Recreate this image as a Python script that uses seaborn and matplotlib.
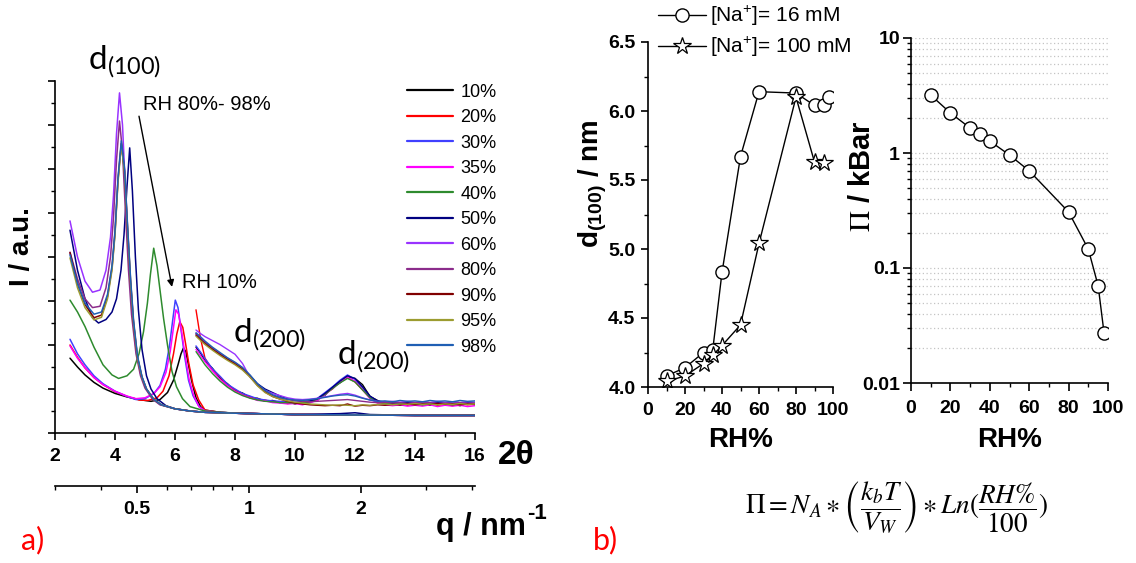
import matplotlib
matplotlib.use("Agg")
import matplotlib.pyplot as plt
from matplotlib.ticker import MultipleLocator, LogLocator, NullFormatter
import seaborn as sns

# ---------------- a) XRD patterns ----------------
# low-angle scans: 2theta (deg) and intensity (a.u.)
TT_10 = [2.5, 2.75, 3.0, 3.3, 3.6, 4.0, 4.4, 4.8, 5.2, 5.5, 5.75, 5.95, 6.1, 6.2,
         6.28, 6.36, 6.45, 6.55, 6.7, 6.85, 7.0, 7.5, 8.0, 10.0, 12.0, 14.0, 16.0]
I_10 = [1.70, 1.50, 1.32, 1.15, 1.02, 0.90, 0.82, 0.76, 0.72, 0.76, 0.92, 1.20, 1.55, 1.80,
        1.93, 1.85, 1.55, 1.20, 0.80, 0.60, 0.52, 0.47, 0.45, 0.42, 0.41, 0.40, 0.40]
TT_20 = [2.5, 2.75, 3.0, 3.3, 3.6, 4.0, 4.4, 4.8, 5.1, 5.4, 5.6, 5.8, 5.95, 6.06,
         6.16, 6.26, 6.36, 6.46, 6.6, 6.79, 7.0, 7.5, 8.0, 10.0, 12.0, 14.0, 16.0]
I_20 = [2.00, 1.72, 1.48, 1.26, 1.10, 0.94, 0.83, 0.75, 0.74, 0.80, 0.95, 1.30, 1.80, 2.25,
        2.53, 2.40, 2.00, 1.58, 1.10, 0.75, 0.52, 0.47, 0.45, 0.42, 0.41, 0.40, 0.40]
TT_30 = [2.5, 2.75, 3.0, 3.3, 3.6, 4.0, 4.4, 4.7, 5.0, 5.3, 5.5, 5.68, 5.82, 5.93,
         6.01, 6.1, 6.2, 6.32, 6.45, 6.6, 6.8, 7.0, 7.5, 8.0, 10.0, 12.0, 14.0, 16.0]
I_30 = [2.13, 1.80, 1.55, 1.30, 1.12, 0.95, 0.83, 0.76, 0.78, 0.90, 1.08, 1.45, 2.00, 2.60,
        3.02, 2.85, 2.35, 1.75, 1.20, 0.85, 0.60, 0.50, 0.47, 0.45, 0.42, 0.41, 0.40, 0.40]
TT_35 = [2.5, 2.75, 3.0, 3.3, 3.6, 4.0, 4.4, 4.7, 5.0, 5.3, 5.5, 5.7, 5.84, 5.95,
         6.03, 6.12, 6.22, 6.34, 6.47, 6.62, 6.8, 7.0, 7.5, 8.0, 10.0, 12.0, 14.0, 16.0]
I_35 = [1.98, 1.70, 1.48, 1.26, 1.10, 0.95, 0.84, 0.78, 0.80, 0.90, 1.05, 1.38, 1.85, 2.40,
        2.80, 2.70, 2.30, 1.75, 1.22, 0.86, 0.60, 0.50, 0.47, 0.45, 0.42, 0.41, 0.40, 0.40]
TT_40 = [2.5, 2.75, 3.0, 3.3, 3.6, 3.9, 4.12, 4.4, 4.62, 4.8, 4.95, 5.08, 5.18, 5.29,
         5.4, 5.5, 5.62, 5.75, 5.9, 6.05, 6.25, 6.5, 7.0, 8.0, 10.0, 12.0, 14.0, 16.0]
I_40 = [3.02, 2.75, 2.42, 1.95, 1.55, 1.32, 1.24, 1.30, 1.45, 1.80, 2.30, 2.95, 3.60, 4.20,
        3.80, 3.25, 2.60, 2.00, 1.40, 1.05, 0.78, 0.60, 0.50, 0.45, 0.42, 0.41, 0.40, 0.40]
TT_50 = [2.5, 2.75, 3.0, 3.25, 3.45, 3.7, 3.9, 4.05, 4.2, 4.3, 4.4, 4.49, 4.58, 4.68, 4.78,
         4.9, 5.05, 5.2, 5.4, 5.7, 6.0, 6.5, 7.0, 8.0, 10.0, 11.5, 12.0, 12.5, 14.0, 16.0]
I_50 = [4.61, 3.70, 3.05, 2.62, 2.50, 2.58, 2.75, 3.05, 3.70, 4.50, 5.60, 6.48, 5.50, 4.00, 2.80,
        1.90, 1.30, 1.00, 0.78, 0.62, 0.55, 0.50, 0.47, 0.45, 0.42, 0.44, 0.46, 0.42, 0.40, 0.40]
TT_60 = [2.5, 2.75, 3.0, 3.25, 3.5, 3.7, 3.85, 3.95, 4.05, 4.15, 4.25, 4.35, 4.45, 4.55,
         4.7, 4.85, 5.0, 5.25, 5.5, 6.0, 6.5, 7.0, 8.0, 10.0, 12.0, 14.0, 16.0]
I_60 = [4.82, 4.00, 3.45, 3.20, 3.25, 3.70, 4.45, 5.40, 6.80, 7.73, 7.00, 5.50, 4.10, 2.95,
        1.90, 1.35, 1.05, 0.78, 0.65, 0.55, 0.50, 0.47, 0.45, 0.42, 0.41, 0.40, 0.40]
TT_80 = TT_60
I_80 = [4.11, 3.50, 3.05, 2.85, 2.88, 3.30, 4.00, 4.90, 6.20, 7.09, 6.40, 5.00, 3.70, 2.70,
        1.80, 1.30, 1.02, 0.77, 0.64, 0.55, 0.50, 0.47, 0.45, 0.42, 0.41, 0.40, 0.40]
TT_LATE = [2.5, 2.75, 3.0, 3.3, 3.55, 3.75, 3.9, 4.0, 4.1, 4.21, 4.32, 4.42, 4.52, 4.62,
           4.75, 4.9, 5.05, 5.3, 5.55, 6.0, 6.5, 7.0, 8.0, 10.0, 12.0, 14.0, 16.0]
I_90 = [4.10, 3.40, 2.92, 2.62, 2.68, 3.10, 3.75, 4.55, 5.75, 6.58, 5.95, 4.65, 3.45, 2.50,
        1.72, 1.27, 1.00, 0.76, 0.64, 0.55, 0.50, 0.47, 0.45, 0.42, 0.41, 0.40, 0.40]
I_95 = [3.98, 3.30, 2.85, 2.57, 2.63, 3.05, 3.70, 4.50, 5.70, 6.55, 5.90, 4.60, 3.40, 2.48,
        1.70, 1.26, 1.00, 0.76, 0.64, 0.55, 0.50, 0.47, 0.45, 0.42, 0.41, 0.40, 0.40]
I_98 = [4.05, 3.40, 2.95, 2.70, 2.75, 3.15, 3.80, 4.60, 5.80, 6.64, 6.00, 4.70, 3.50, 2.55,
        1.75, 1.28, 1.00, 0.76, 0.64, 0.55, 0.50, 0.47, 0.45, 0.42, 0.41, 0.40, 0.40]

# high-angle scans (noisy, d(200) region), common 2theta grid
TT_HIGH = [6.7, 6.85, 7.0, 7.25, 7.5, 7.75, 8.0, 8.25, 8.5, 8.75,
           9.0, 9.25, 9.5, 9.75, 10.0, 10.25, 10.5, 10.75, 11.0, 11.25,
           11.5, 11.75, 12.0, 12.25, 12.5, 12.75, 13.0, 13.25, 13.5, 13.75,
           14.0, 14.25, 14.5, 14.75, 15.0, 15.25, 15.5, 15.75, 16.0]
IH_10 = [1.95, 1.82, 1.64, 1.47, 1.24, 1.12, 0.96, 0.91, 0.80, 0.79,
         0.72, 0.74, 0.69, 0.71, 0.66, 0.70, 0.69, 0.78, 0.86, 1.04,
         1.14, 1.27, 1.24, 1.10, 0.83, 0.74, 0.65, 0.68, 0.63, 0.67,
         0.64, 0.66, 0.63, 0.67, 0.64, 0.66, 0.62, 0.67, 0.64]
IH_20 = [2.80, 2.15, 1.70, 1.43, 1.28, 1.08, 0.99, 0.87, 0.83, 0.75,
         0.75, 0.70, 0.71, 0.67, 0.69, 0.66, 0.71, 0.74, 0.90, 1.00,
         1.18, 1.26, 1.16, 0.98, 0.80, 0.69, 0.68, 0.64, 0.66, 0.63,
         0.66, 0.64, 0.67, 0.63, 0.65, 0.62, 0.66, 0.64, 0.65]
IH_30 = [1.98, 1.84, 1.69, 1.46, 1.29, 1.11, 1.00, 0.90, 0.84, 0.78,
         0.75, 0.73, 0.72, 0.70, 0.70, 0.69, 0.72, 0.79, 0.92, 1.05,
         1.20, 1.32, 1.22, 1.02, 0.82, 0.72, 0.69, 0.67, 0.68, 0.66,
         0.67, 0.65, 0.68, 0.66, 0.67, 0.65, 0.68, 0.66, 0.67]
IH_35 = [1.90, 1.76, 1.62, 1.41, 1.22, 1.07, 0.95, 0.86, 0.80, 0.74,
         0.73, 0.69, 0.68, 0.66, 0.67, 0.64, 0.69, 0.74, 0.87, 1.01,
         1.15, 1.27, 1.18, 0.99, 0.78, 0.68, 0.64, 0.62, 0.64, 0.61,
         0.63, 0.61, 0.64, 0.60, 0.63, 0.61, 0.63, 0.60, 0.62]
IH_40 = [1.85, 1.70, 1.55, 1.35, 1.18, 1.04, 0.93, 0.85, 0.79, 0.75,
         0.72, 0.71, 0.69, 0.69, 0.68, 0.69, 0.71, 0.77, 0.88, 1.01,
         1.14, 1.24, 1.16, 0.98, 0.80, 0.70, 0.67, 0.66, 0.66, 0.65,
         0.66, 0.64, 0.66, 0.65, 0.66, 0.64, 0.66, 0.65, 0.66]
IH_50 = [2.25, 2.16, 2.06, 1.92, 1.80, 1.68, 1.58, 1.46, 1.30, 1.12,
         1.00, 0.92, 0.84, 0.77, 0.74, 0.72, 0.73, 0.78, 0.90, 1.04,
         1.18, 1.30, 1.24, 1.05, 0.84, 0.73, 0.70, 0.71, 0.68, 0.70,
         0.68, 0.71, 0.69, 0.70, 0.68, 0.71, 0.69, 0.70, 0.68]
IH_60 = [2.34, 2.26, 2.19, 2.10, 2.01, 1.90, 1.79, 1.58, 1.27, 1.09,
         0.97, 0.90, 0.85, 0.80, 0.77, 0.76, 0.77, 0.79, 0.82, 0.85,
         0.88, 0.90, 0.86, 0.80, 0.75, 0.72, 0.71, 0.72, 0.70, 0.72,
         0.70, 0.71, 0.69, 0.72, 0.70, 0.71, 0.69, 0.71, 0.70]
IH_80 = [2.26, 2.17, 2.07, 1.93, 1.81, 1.70, 1.60, 1.48, 1.31, 1.10,
         0.95, 0.85, 0.80, 0.76, 0.74, 0.72, 0.71, 0.72, 0.73, 0.74,
         0.75, 0.76, 0.74, 0.72, 0.70, 0.69, 0.70, 0.68, 0.69, 0.67,
         0.69, 0.68, 0.69, 0.67, 0.68, 0.67, 0.69, 0.67, 0.68]
IH_90 = [2.22, 2.12, 2.03, 1.90, 1.78, 1.67, 1.57, 1.45, 1.28, 1.08,
         0.93, 0.83, 0.77, 0.72, 0.68, 0.66, 0.64, 0.63, 0.62, 0.63,
         0.62, 0.66, 0.61, 0.63, 0.62, 0.64, 0.63, 0.65, 0.64, 0.66,
         0.64, 0.66, 0.65, 0.67, 0.65, 0.66, 0.64, 0.66, 0.65]
IH_95 = [2.20, 2.10, 2.01, 1.88, 1.76, 1.65, 1.55, 1.43, 1.27, 1.07,
         0.92, 0.83, 0.77, 0.73, 0.70, 0.68, 0.66, 0.65, 0.64, 0.63,
         0.64, 0.63, 0.62, 0.64, 0.63, 0.65, 0.66, 0.64, 0.66, 0.65,
         0.67, 0.65, 0.66, 0.64, 0.66, 0.65, 0.67, 0.65, 0.66]
IH_98 = [2.28, 2.19, 2.09, 1.95, 1.83, 1.71, 1.61, 1.49, 1.32, 1.12,
         0.97, 0.87, 0.81, 0.77, 0.75, 0.74, 0.76, 0.78, 0.81, 0.84,
         0.86, 0.87, 0.84, 0.79, 0.75, 0.72, 0.73, 0.71, 0.74, 0.72,
         0.73, 0.71, 0.74, 0.72, 0.73, 0.71, 0.74, 0.72, 0.73]

RH_LABELS = ['10%', '20%', '30%', '35%', '40%', '50%', '60%', '80%', '90%', '95%', '98%']
RH_COLORS = ['#000000', '#ff0000', '#4040ff', '#ff00ff', '#2e8b2e', '#000080',
             '#9933ff', '#8b2c8b', '#800000', '#9c9c30', '#1f5fb4']

# q axis ticks (nm^-1)
Q_TICKS = [0.5, 1, 2]

# ---------------- b) d-spacing and osmotic pressure ----------------
RH_16 = [10, 20, 30, 35, 40, 50, 60, 80, 90, 95, 98]
D_16 = [4.08, 4.14, 4.25, 4.27, 4.83, 5.67, 6.14, 6.13, 6.04, 6.04, 6.10]
RH_100 = [10, 20, 30, 35, 40, 50, 60, 80, 90, 95]
D_100 = [4.04, 4.08, 4.17, 4.23, 4.30, 4.45, 5.04, 6.10, 5.63, 5.62]
RH_PI = [10, 20, 30, 35, 40, 50, 60, 80, 90, 95, 98]
PI_KBAR = [3.19, 2.23, 1.65, 1.46, 1.27, 0.96, 0.70, 0.307, 0.146, 0.070, 0.0272]

sns.set_style('ticks', rc={'axes.edgecolor': 'black', 'xtick.color': 'black',
                           'ytick.color': 'black', 'text.color': 'black',
                           'axes.labelcolor': 'black'})
plt.rcParams['font.family'] = ['Liberation Sans', 'DejaVu Sans']
plt.rcParams['axes.linewidth'] = 1.2

W, H = 1136, 563
fig = plt.figure(figsize=(W / 100, H / 100), dpi=100)


def box(l, t, r, b):
    return [l / W, 1 - b / H, (r - l) / W, (b - t) / H]


# ----- panel a -----
ax_a = fig.add_axes(box(55, 81, 475, 433))
low = [(TT_10, I_10), (TT_20, I_20), (TT_30, I_30), (TT_35, I_35), (TT_40, I_40),
       (TT_50, I_50), (TT_60, I_60), (TT_80, I_80), (TT_LATE, I_90), (TT_LATE, I_95),
       (TT_LATE, I_98)]
high = [IH_10, IH_20, IH_30, IH_35, IH_40, IH_50, IH_60, IH_80, IH_90, IH_95, IH_98]
for (tt, ii), ih, lab, col in zip(low, high, RH_LABELS, RH_COLORS):
    sns.lineplot(x=tt, y=ii, ax=ax_a, color=col, lw=1.1, sort=False, label=lab)
    sns.lineplot(x=TT_HIGH, y=ih, ax=ax_a, color=col, lw=1.0, sort=False, label='_nolegend_')

ax_a.set_xlim(2, 16)
ax_a.set_ylim(0, 8)
ax_a.set_xticks(range(2, 17, 2), labels=[str(v) for v in range(2, 17, 2)],
                fontsize=14, fontweight='bold')
ax_a.xaxis.set_minor_locator(MultipleLocator(1))
ax_a.set_yticks(range(0, 9))
ax_a.set_yticklabels([])
ax_a.yaxis.set_minor_locator(MultipleLocator(0.5))
ax_a.tick_params(which='major', length=5, width=1.2, pad=6)
ax_a.tick_params(which='minor', length=3, width=1.0)
ax_a.spines[['top', 'right']].set_visible(False)
ax_a.set_ylabel('I / a.u.', fontsize=20, fontweight='bold')
ax_a.yaxis.set_label_coords(-0.079, 0.53)
ax_a.yaxis.label.set_va('center')

handles, labels = ax_a.get_legend_handles_labels()
leg = ax_a.legend(handles, labels, loc='upper left', bbox_to_anchor=(0.838, 0.992),
                  frameon=False, fontsize=13, handlelength=2.55, handletextpad=0.4,
                  labelspacing=0.47, borderpad=0, borderaxespad=0)
for ln in leg.get_lines():
    ln.set_linewidth(1.6)

ax_a.text(3.1, 8.25, r'd$_{\mathregular{(100)}}$', fontsize=24, family='Lato',
          ha='left', va='baseline', clip_on=False)
ax_a.text(4.93, 7.34, 'RH 80%- 98%', fontsize=14.5, ha='left', va='baseline')
ax_a.text(6.23, 3.3, 'RH 10%', fontsize=14.5, ha='left', va='baseline')
ax_a.annotate('', xy=(5.9, 3.32), xytext=(4.8, 7.2),
              arrowprops=dict(arrowstyle='-|>', color='black', lw=1,
                              mutation_scale=10, shrinkA=0, shrinkB=0))
ax_a.text(7.93, 2.05, r'd$_{\mathregular{(200)}}$', fontsize=24, family='Lato',
          ha='left', va='baseline')
ax_a.text(11.4, 1.55, r'd$_{\mathregular{(200)}}$', fontsize=24, family='Lato',
          ha='left', va='baseline')
ax_a.text(1.098, -0.065, '2θ', transform=ax_a.transAxes, fontsize=24,
          fontweight='bold', ha='center', va='center', clip_on=False)

# q axis below
ax_q = fig.add_axes(box(55, 486, 475, 486.1))
ax_q.set_xscale('log')
ax_q.set_xlim(0.3, 4.07)
ax_q.set_yticks([])
ax_q.spines[['top', 'left', 'right']].set_visible(False)
ax_q.set_xticks(Q_TICKS, labels=['0.5', '1', '2'], fontsize=14, fontweight='bold')
ax_q.xaxis.set_minor_locator(LogLocator(base=10, subs=[2, 3, 4, 5, 6, 7, 8, 9]))
ax_q.xaxis.set_minor_formatter(NullFormatter())
ax_q.tick_params(which='major', length=5, width=1.2, pad=6)
ax_q.tick_params(which='minor', length=3, width=1.0)
fig.text(436 / W, 1 - 535 / H, 'q / nm', fontsize=22, fontweight='bold',
         ha='left', va='baseline')
fig.text(527 / W, 1 - 503 / H, '-1', fontsize=16, fontweight='bold',
         ha='left', va='top')

# ----- panel b: d spacing -----
ax_d = fig.add_axes(box(648, 42, 833, 387))
sns.lineplot(x=RH_16, y=D_16, ax=ax_d, color='black', lw=1, marker='o', markersize=9.5,
             markerfacecolor='white', markeredgecolor='black', markeredgewidth=1,
             label=r'[Na$^{\mathregular{+}}$]= 16 mM')
sns.lineplot(x=RH_100, y=D_100, ax=ax_d, color='black', lw=1, marker='*', markersize=13,
             markerfacecolor='white', markeredgecolor='black', markeredgewidth=0.9,
             label=r'[Na$^{\mathregular{+}}$]= 100 mM')
ax_d.set_xlim(0, 100)
ax_d.set_ylim(4.0, 6.5)
ax_d.set_xticks(range(0, 101, 20), labels=[str(v) for v in range(0, 101, 20)],
                fontsize=14, fontweight='bold')
ax_d.set_yticks([4.0, 4.5, 5.0, 5.5, 6.0, 6.5],
                labels=['4.0', '4.5', '5.0', '5.5', '6.0', '6.5'],
                fontsize=14, fontweight='bold')
ax_d.xaxis.set_minor_locator(MultipleLocator(10))
ax_d.yaxis.set_minor_locator(MultipleLocator(0.25))
ax_d.tick_params(which='major', length=5, width=1.2)
ax_d.tick_params(axis='x', pad=6)
ax_d.tick_params(axis='y', pad=4)
ax_d.tick_params(which='minor', length=3, width=1.0)
ax_d.spines[['top', 'right']].set_visible(False)
ax_d.set_xlabel('RH%', fontsize=20, fontweight='bold')
ax_d.xaxis.set_label_coords(0.5, -0.154)
ax_d.xaxis.label.set_va('center')
ax_d.set_ylabel(r'd$_{\mathregular{(100)}}$ / nm', fontsize=20, fontweight='bold')
ax_d.yaxis.set_label_coords(-0.30, 0.59)
ax_d.yaxis.label.set_va('center')
ax_d.legend(loc='upper left', bbox_to_anchor=(0.054, 1.113), frameon=False, fontsize=15,
            handlelength=2.3, handletextpad=0.2, labelspacing=0.3, borderpad=0,
            borderaxespad=0)

# ----- panel b: osmotic pressure -----
ax_p = fig.add_axes(box(911, 38, 1108, 383))
sns.lineplot(x=RH_PI, y=PI_KBAR, ax=ax_p, color='black', lw=1, marker='o', markersize=9.5,
             markerfacecolor='white', markeredgecolor='black', markeredgewidth=1)
ax_p.set_yscale('log')
ax_p.set_xlim(0, 100)
ax_p.set_ylim(0.01, 10)
ax_p.set_xticks(range(0, 101, 20), labels=[str(v) for v in range(0, 101, 20)],
                fontsize=14, fontweight='bold')
ax_p.set_yticks([0.01, 0.1, 1, 10], labels=['0.01', '0.1', '1', '10'],
                fontsize=14, fontweight='bold')
ax_p.yaxis.set_minor_locator(LogLocator(base=10, subs=[2, 3, 4, 5, 6, 7, 8, 9]))
ax_p.yaxis.set_minor_formatter(NullFormatter())
ax_p.xaxis.set_minor_locator(MultipleLocator(10))
ax_p.tick_params(which='major', length=6, width=1.2)
ax_p.tick_params(axis='x', pad=6)
ax_p.tick_params(axis='y', pad=2)
ax_p.tick_params(which='minor', length=3, width=1.0)
ax_p.grid(True, axis='y', which='both', linestyle=(0, (1, 2)), color='#c4c4c4', lw=0.9)
ax_p.set_axisbelow(True)
ax_p.spines[['top', 'right']].set_visible(False)
ax_p.set_xlabel('RH%', fontsize=20, fontweight='bold')
ax_p.xaxis.set_label_coords(0.5, -0.165)
ax_p.xaxis.label.set_va('center')
ax_p.set_ylabel(r'$\Pi$ / kBar', fontsize=21, fontweight='bold', math_fontfamily='stix')
ax_p.yaxis.set_label_coords(-0.25, 0.60)
ax_p.yaxis.label.set_va('center')

fig.text(896 / W, 1 - 508 / H,
         r'$\Pi = N_A \ast \left(\dfrac{k_bT}{V_W}\right) \ast Ln(\dfrac{RH\%}{100})$',
         fontsize=19.5, math_fontfamily='stix', ha='center', va='center')
fig.text(33 / W, 1 - 540 / H, 'a)', fontsize=22, color='#ff0000', family='Lato',
         ha='center', va='center')
fig.text(605 / W, 1 - 540 / H, 'b)', fontsize=22, color='#ff0000', family='Lato',
         ha='center', va='center')

fig.savefig('out.png', dpi=100)
